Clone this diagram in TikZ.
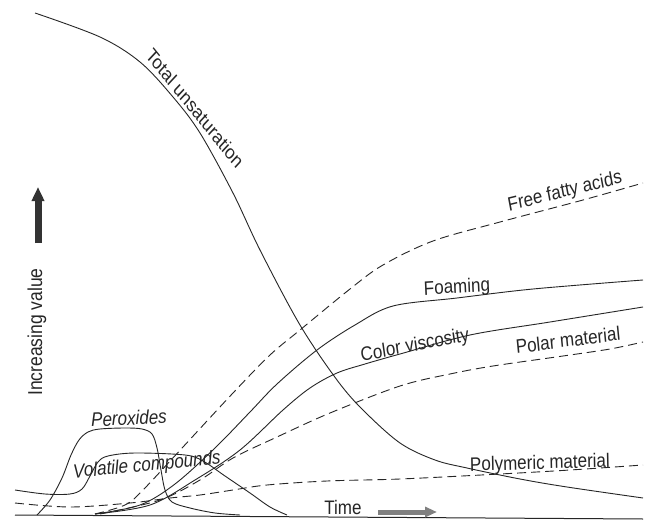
\documentclass[tikz,border=0pt]{standalone}
\usepackage{fontspec}
\setmainfont{Liberation Sans}
\usetikzlibrary{arrows.meta}
\begin{document}
\begin{tikzpicture}[x=1pt,y=-1pt,
  curve/.style={line width=0.9pt, draw=black!85, smooth, tension=0.55},
  dashcurve/.style={curve, dash pattern=on 9pt off 5pt},
  lbl/.style={font=\fontsize{17}{20}\selectfont, text=black!85, inner sep=0pt, yscale=1.15},
  ilbl/.style={lbl, font=\fontsize{17}{20}\selectfont\itshape}]
\fill[white] (0,0) rectangle (649,525);
\useasboundingbox (0,0) rectangle (649,525);

% axis
\coordinate (b0) at (15,515);
\coordinate (b1) at (643,519);
\draw[line width=1pt, black!85] (b0) -- (b1);

% Total unsaturation
\draw[curve] plot coordinates {(35,13) (100,37) (140,62) (173,97) (200,133) (233,193) (260,250) (300,325) (337,380) (363,410) (400,443) (435,460) (467,468) (520,479) (567,487) (643,498)};

% Free fatty acids
\draw[dashcurve] plot coordinates {(95,514) (125,505) (143,490) (183,447) (233,393) (270,355) (300,330) (350,289) (383,265) (433,241) (500,222) (583,200) (643,183)};

% Foaming
\draw[curve] plot coordinates {(95,514) (140,505) (175,484) (215,448) (250,412) (277,384) (317,350) (355,325) (393,306) (457,298) (533,289) (643,280)};

% Color viscosity
\draw[curve] plot coordinates {(95,514) (150,505) (195,480) (240,450) (283,410) (310,388) (337,373) (365,364) (400,354) (470,335) (550,322) (643,307)};

% Polar material
\draw[dashcurve] plot coordinates {(100,514) (160,500) (200,480) (233,458) (277,437) (330,413) (400,386) (450,374) (493,366) (563,356) (610,349) (643,342)};

% Polymeric material
\draw[dashcurve] plot coordinates {(15,503) (70,507) (130,503) (170,498) (200,495) (233,490) (267,485) (327,481) (400,479) (500,474) (570,470) (643,465)};

% Peroxides
\draw[curve] plot coordinates {(37,515) (50,500) (62,478) (71,455) (79,440) (88,432) (100,429) (125,428) (142,429) (152,434) (157,448) (161,470) (165,490) (172,502) (190,508) (215,513) (240,515)};

% Volatile compounds
\draw[curve] plot coordinates {(15,490) (45,494) (70,494) (82,489) (90,476) (98,462) (108,456) (135,453) (185,455) (203,461) (225,476) (250,493) (270,507) (287,515)};

% labels
\node[lbl, rotate=-47] (ltu) at (195,108) {Total unsaturation};
\node[lbl, rotate=12.2] (lffa) at (565,192) {Free fatty acids};
\node[lbl, rotate=3] (lfoam) at (457,288) {Foaming};
\node[lbl, rotate=9.6] (lcv) at (415,346) {Color viscosity};
\node[lbl, rotate=6.5] (lpolar) at (568,340) {Polar material};
\node[lbl, rotate=1.4] (lpoly) at (540,464) {Polymeric material};
\node[ilbl, rotate=2.2] (lperox) at (129,418) {Peroxides};
\node[ilbl, rotate=4.7] (lvol) at (147,466) {Volatile compounds};
\node[lbl] (ltime) at (343,508) {Time};
\node[font=\fontsize{17.5}{20}\selectfont, text=black!85, inner sep=0pt, xscale=1, rotate=90, yscale=1.15] (linc) at (37,332) {Increasing value};

% arrows
\coordinate (va0) at (38,243);
\coordinate (va1) at (38,187);
\draw[line width=7pt, black!80, -{Triangle[width=12pt,length=14pt]}] (va0) -- (va1);
\coordinate (ta0) at (378,512);
\coordinate (ta1) at (437,512);
\draw[line width=5pt, black!50, -{Triangle[width=10pt,length=12pt]}] (ta0) -- (ta1);
\end{tikzpicture}
\end{document}
